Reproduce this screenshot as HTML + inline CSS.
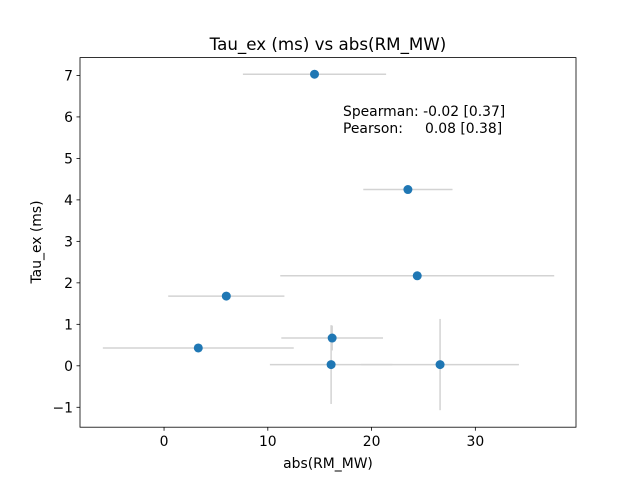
<!DOCTYPE html>
<html><head><meta charset="utf-8"><style>
body{margin:0;background:#fff}
svg text{font-family:"DejaVu Sans","Liberation Sans",sans-serif;fill:#000}
</style></head><body>
<svg id="chart" width="640" height="480" xmlns="http://www.w3.org/2000/svg">
<rect width="640" height="480" fill="#fff"/>
<g id="marks"></g>
<rect x="80" y="57.6" width="496" height="369.6" fill="none" stroke="#000" stroke-width="0.8"/>
<g id="axes"></g>
<text x="328" y="50" font-size="16.7" text-anchor="middle">Tau_ex (ms) vs abs(RM_MW)</text>
<text x="328" y="468" font-size="13.9" text-anchor="middle">abs(RM_MW)</text>
<text transform="translate(41,242) rotate(-90)" font-size="13.9" text-anchor="middle">Tau_ex (ms)</text>
<text x="343" y="116" font-size="13.9">Spearman: -0.02 [0.37]</text>
<text x="343" y="133" font-size="13.9">Pearson:</text>
<text x="425" y="133" font-size="13.9">0.08 [0.38]</text>
</svg>
<script>
const xVals=[14.5,23.5,24.4,6.0,16.2,3.3,16.1,26.6];
const yVals=[7.03,4.25,2.17,1.68,0.67,0.43,0.03,0.03];
const xErr=[6.9,4.3,13.2,5.6,4.9,9.2,5.9,7.6];
const yErr=[0,0,0,0,0.3,0,0.95,1.1];
const xTicks=[0,10,20,30];
const yTicks=[-1,0,1,2,3,4,5,6,7];
const X0=80,X1=576,Y0=57.6,Y1=427.2,xmin=-8.1,xmax=39.7,ymin=-1.48,ymax=7.43;
const sx=v=>X0+(v-xmin)/(xmax-xmin)*(X1-X0);
const sy=v=>Y1-(v-ymin)/(ymax-ymin)*(Y1-Y0);
const NS="http://www.w3.org/2000/svg";
const marks=document.getElementById('marks'),axes=document.getElementById('axes');
function mk(tag,at,parent){const e=document.createElementNS(NS,tag);for(const k in at)e.setAttribute(k,at[k]);parent.appendChild(e);return e;}
xVals.forEach((x,i)=>{
  const y=yVals[i];
  const h=mk('line',{x1:sx(x-xErr[i]),x2:sx(x+xErr[i]),y1:sy(y),y2:sy(y),stroke:'#d3d3d3','stroke-width':1.5},marks);
  
  
  if(yErr[i]>0){
    const v=mk('line',{x1:sx(x),x2:sx(x),y1:sy(y-yErr[i]),y2:sy(y+yErr[i]),stroke:'#d3d3d3','stroke-width':1.5},marks);
    
    
  }
});
xVals.forEach((x,i)=>{
  const c=mk('circle',{cx:sx(x),cy:sy(yVals[i]),r:4.5,fill:'#1f77b4'},marks);
  
  
});
xTicks.forEach(t=>{
  const l=mk('line',{x1:sx(t),x2:sx(t),y1:Y1,y2:Y1+3.5,stroke:'#000','stroke-width':0.8},axes);
  
  
  const tx=mk('text',{x:sx(t),y:Y1+19,'font-size':13.9,'text-anchor':'middle'},axes);
  tx.textContent=t;
  
  
});
yTicks.forEach(t=>{
  const l=mk('line',{x1:X0-3.5,x2:X0,y1:sy(t),y2:sy(t),stroke:'#000','stroke-width':0.8},axes);
  
  
  const tx=mk('text',{x:X0-7,y:sy(t)+5,'font-size':13.9,'text-anchor':'end'},axes);
  tx.textContent=t<0?'\u2212'+(-t):t;
  
  
});
</script>
</body></html>
